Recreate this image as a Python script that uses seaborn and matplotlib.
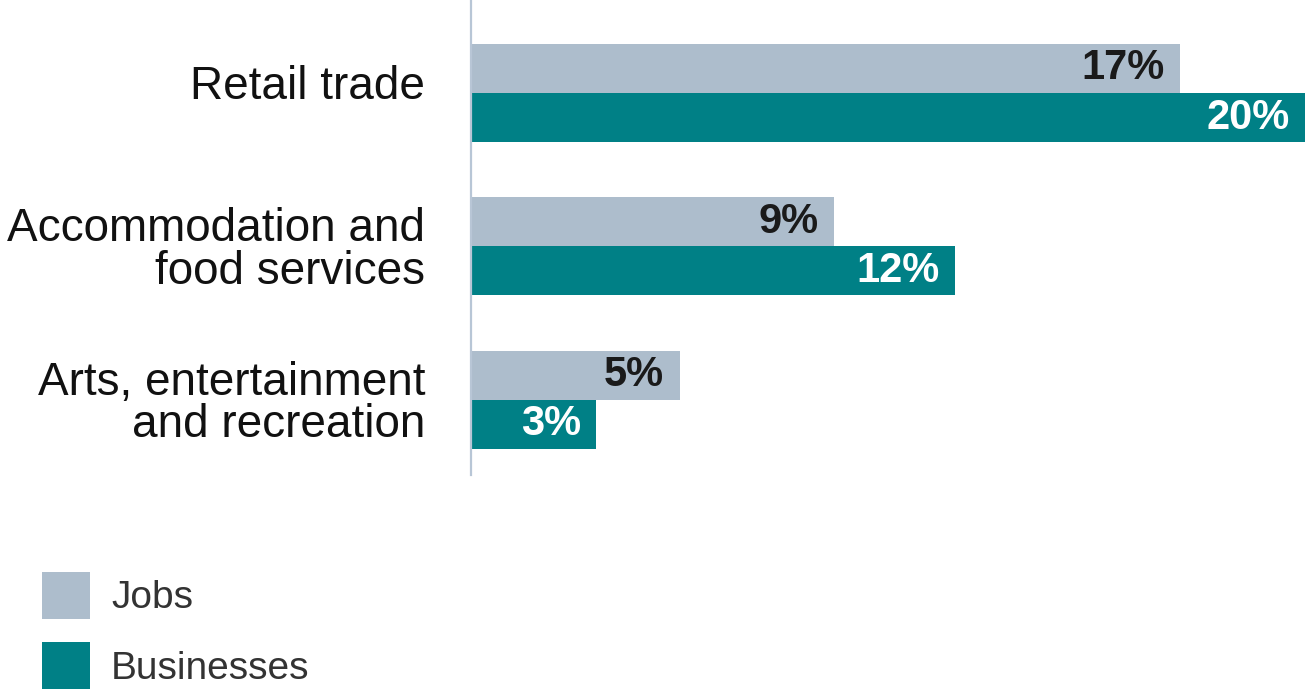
import numpy as np
import pandas as pd

import matplotlib.pyplot as plt
from matplotlib.patches import Patch
from matplotlib.transforms import ScaledTranslation
import seaborn as sns

sns.set_theme(style="white")
plt.rcParams['font.family'] = ['Liberation Sans', 'DejaVu Sans']

# -- Data -- #
categories = ["Retail trade", "Accommodation and\nfood services", "Arts, entertainment\nand recreation"]
series = ["Jobs", "Businesses"]
jobs = [17.0, 8.7, 5.0]
businesses = [20.0, 11.6, 3.0]
jobs_labels = ["17%", "9%", "5%"]
businesses_labels = ["20%", "12%", "3%"]

colors = {"Jobs": "#adbdcc", "Businesses": "#008086"}
label_colors = {"Jobs": "#1a1a1a", "Businesses": "white"}

df = pd.DataFrame({
    "category": categories * 2,
    "series": ["Jobs"] * 3 + ["Businesses"] * 3,
    "value": jobs + businesses,
})

fig = plt.figure(figsize=(13.07, 6.93), dpi=100)
ax = fig.add_axes([471 / 1307, (693 - 475) / 693, (1305 - 471) / 1307, 475 / 693])

sns.barplot(
    data=df, x="value", y="category", hue="series",
    order=categories, hue_order=series, palette=colors,
    orient="h", width=0.64, errorbar=None, legend=False, ax=ax,
    saturation=1, linewidth=0,
)

ax.set_xlim(0, 20)
ax.set_ylim(2.49, -0.606)
ax.set_xlabel("")
ax.set_ylabel("")
ax.set_xticks([])
ax.tick_params(axis="y", length=0, pad=33)
for lbl in ax.get_yticklabels():
    lbl.set_fontsize(33)
    lbl.set_color("#111111")
    lbl.set_linespacing(0.95)

# single-line label sits a little above its bar pair
retail = ax.get_yticklabels()[0]
retail.set_transform(retail.get_transform() + ScaledTranslation(0, 8 / 72, fig.dpi_scale_trans))

for side in ["top", "right", "bottom"]:
    ax.spines[side].set_visible(False)
ax.spines["left"].set_color("#b8c6d6")
ax.spines["left"].set_linewidth(1.6)

# value labels inside bar ends
all_labels = {"Jobs": jobs_labels, "Businesses": businesses_labels}
for name, container in zip(series, ax.containers):
    for patch, text in zip(container.patches, all_labels[name]):
        y = patch.get_y() + patch.get_height() / 2
        ax.annotate(text, xy=(patch.get_width(), y), xytext=(-11, 0),
                    textcoords="offset points", ha="right", va="center",
                    fontsize=30, fontweight="bold", color=label_colors[name])

handles = [Patch(facecolor=colors[s], edgecolor="none") for s in series]
fig.legend(handles, series, loc="upper left",
           bbox_to_anchor=(42 / 1307, 1 - 572 / 693), frameon=False,
           fontsize=28, handlelength=1.23, handleheight=1.48,
           handletextpad=0.55, labelspacing=0.6, borderpad=0, borderaxespad=0,
           labelcolor="#333333")

fig.savefig("out.png", dpi=100)
plt.close()
